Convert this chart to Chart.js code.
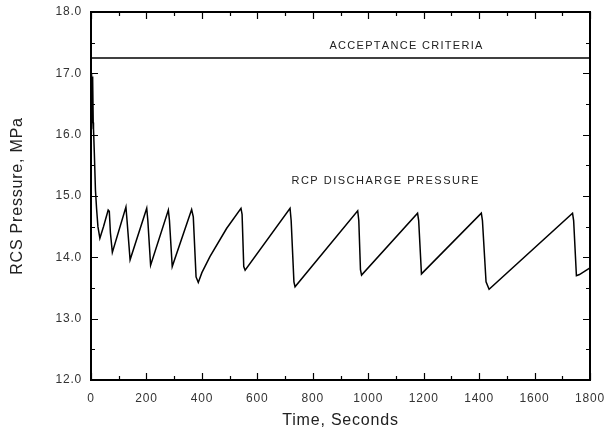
<!DOCTYPE html>
<html><head><meta charset="utf-8">
<script src="https://cdn.jsdelivr.net/npm/chart.js@4.4.0/dist/chart.umd.min.js"></script>
<style>html,body{margin:0;padding:0;background:#fff;}#wrap{width:613px;height:432px;}</style>
</head><body><div id="wrap"><canvas id="c" width="613" height="432"></canvas></div>
<script>
// ---- data ----
const timeSec = [0,1,2,3,4,5,6,7,8,9,12,16,20,25,32,45,62,66,70,77,
  126,130,141,201,205,215,279,283,293,363,369,379,387,400,429,489,541,545,551,556,
  718,722,732,736,962,966,972,976,1178,1182,1192,1408,1412,1425,1436,1737,1741,1751,1762,1800];
const rcpPressure = [16.1,17.0,16.3,17.0,16.2,16.95,16.3,16.9,16.2,16.1,15.7,15.1,14.8,14.5,14.31,14.5,14.77,14.75,14.4,14.08,
  14.82,14.6,13.96,14.80,14.6,13.87,14.77,14.6,13.85,14.78,14.66,13.68,13.59,13.75,14.01,14.47,14.80,14.7,13.85,13.79,
  14.80,14.6,13.6,13.52,14.76,14.6,13.8,13.71,14.72,14.6,13.73,14.72,14.6,13.6,13.48,14.72,14.6,13.70,13.72,13.83];
const acceptanceTime = [0,1800];
const acceptanceValue = [17.25,17.25];
const xMajorTicks = [0,200,400,600,800,1000,1200,1400,1600,1800];
const xMinorTicks = [100,300,500,700,900,1100,1300,1500,1700];
const yMajorTicks = [12,13,14,15,16,17,18];
const yMinorTicks = [12.5,13.5,14.5,15.5,16.5,17.5];
const textLabels = ['ACCEPTANCE CRITERIA','RCP DISCHARGE PRESSURE'];
const textLabelX = [1136,1060];
const textLabelY = [17.45,15.24];
const xTitle = 'Time, Seconds';
const yTitle = 'RCS Pressure, MPa';

const rcpData = timeSec.map((t,i)=>({x:t,y:rcpPressure[i]}));
const accData = acceptanceTime.map((t,i)=>({x:t,y:acceptanceValue[i]}));
const FONT = '"Liberation Sans", Arial, sans-serif';

const frameTicks = {
  id:'frameTicks',
  beforeDraw(chart){ chart.ctx.letterSpacing='0.8px'; },
  afterDraw(chart){
    const {ctx, chartArea:a, scales:{x,y}} = chart;
    ctx.save();
    ctx.letterSpacing='0px';
    const L=Math.round(a.left), R=Math.round(a.right), T=Math.round(a.top), B=Math.round(a.bottom);
    ctx.strokeStyle='#000'; ctx.lineWidth=2;
    ctx.strokeRect(L, T, R-L, B-T);
    ctx.lineWidth=1.2;
    ctx.beginPath();
    const tickX=(vals,len)=>{
      vals.forEach(v=>{
        const px=Math.round(x.getPixelForValue(v))+0.5;
        ctx.moveTo(px,B); ctx.lineTo(px,B-len);
        ctx.moveTo(px,T); ctx.lineTo(px,T+len);
      });
    };
    const tickY=(vals,len)=>{
      vals.forEach(v=>{
        const py=Math.round(y.getPixelForValue(v))+0.5;
        ctx.moveTo(L,py); ctx.lineTo(L+len,py);
        ctx.moveTo(R,py); ctx.lineTo(R-len,py);
      });
    };
    tickX(xMajorTicks,7); tickX(xMinorTicks,4);
    tickY(yMajorTicks,7); tickY(yMinorTicks,4);
    ctx.stroke();
    // annotation texts
    ctx.fillStyle='#222';
    ctx.font='11px '+FONT;
    ctx.textBaseline='middle';
    const spacing=[1.3,1.5];
    textLabels.forEach((s,i)=>{
      const cx=x.getPixelForValue(textLabelX[i]);
      const cy=y.getPixelForValue(textLabelY[i]);
      let w=0; for(const ch of s) w+=ctx.measureText(ch).width+spacing[i];
      w-=spacing[i];
      let px=cx-w/2;
      for(const ch of s){ ctx.fillText(ch,px,cy); px+=ctx.measureText(ch).width+spacing[i]; }
    });
    ctx.restore();
  }
};

new Chart(document.getElementById('c'),{
  type:'scatter',
  data:{datasets:[
    {data:rcpData, showLine:true, borderColor:'#000', borderWidth:1.5, pointRadius:0, tension:0},
    {data:accData, showLine:true, borderColor:'#000', borderWidth:1.7, pointRadius:0, tension:0}
  ]},
  options:{
    responsive:false, animation:false, devicePixelRatio:1,
    layout:{padding:{top:12,right:23,left:0,bottom:0}},
    plugins:{legend:{display:false},tooltip:{enabled:false}},
    scales:{
      x:{type:'linear',min:0,max:1800,
        afterFit(s){s.height=52; s.paddingLeft=0; s.paddingRight=0;},
        afterBuildTicks(s){s.ticks=xMajorTicks.map(v=>({value:v}));},
        grid:{display:false,drawTicks:false},border:{display:false},
        ticks:{padding:11,color:'#333',font:{size:12,family:FONT},maxRotation:0,autoSkip:false,callback:v=>String(v)},
        title:{display:true,text:xTitle,color:'#222',font:{size:16,family:FONT},padding:{top:0,bottom:2}}
      },
      y:{type:'linear',min:12,max:18,
        afterFit(s){s.width=91; s.paddingTop=0; s.paddingBottom=0;},
        afterBuildTicks(s){s.ticks=yMajorTicks.map(v=>({value:v}));},
        grid:{display:false,drawTicks:false},border:{display:false},
        ticks:{padding:9,color:'#333',font:{size:12,family:FONT},callback:v=>Number(v).toFixed(1)},
        title:{display:true,text:yTitle,color:'#222',font:{size:16,family:FONT},padding:{top:8,bottom:0}}
      }
    }
  },
  plugins:[frameTicks]
});
</script></body></html>
